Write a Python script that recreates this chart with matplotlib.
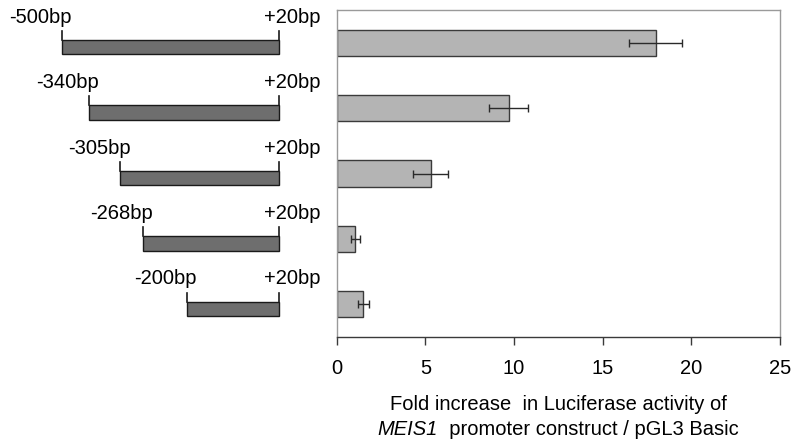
import matplotlib
matplotlib.use("Agg")
import matplotlib.pyplot as plt
import numpy as np

plt.rcParams["font.family"] = ["Liberation Sans", "DejaVu Sans"]

# promoter constructs (top to bottom)
start_labels = ["-500bp", "-340bp", "-305bp", "-268bp", "-200bp"]
end_label = "+20bp"
# schematic start positions as drawn (diagram is not to scale)
draw_start = [-500, -435, -360, -305, -200]
draw_end = 20

fold = [18.0, 9.7, 5.3, 1.05, 1.5]
fold_err = [1.5, 1.1, 1.0, 0.27, 0.33]

xticks = [0, 5, 10, 15, 20, 25]
xlabel_1 = "Fold increase  in Luciferase activity of"
xlabel_gene = "MEIS1"
xlabel_2 = "  promoter construct / pGL3 Basic"

FS = 14.5

fig = plt.figure(figsize=(8, 4.45), dpi=100)

# bar chart on the right
ax = fig.add_axes([0.421, 0.2427, 0.554, 0.7348])
y = np.arange(len(fold))
ax.barh(y, fold, height=0.4, color="#b4b4b4", edgecolor="#3a3a3a", linewidth=1.0,
        xerr=fold_err, error_kw=dict(ecolor="#2a2a2a", elinewidth=1.0, capsize=3, capthick=1.0))
ax.set_ylim(4.5, -0.5)
ax.set_xlim(0, 25)
ax.set_xticks(xticks)
ax.set_yticks([])
ax.tick_params(axis="x", direction="out", length=6, width=1.0, color="#3a3a3a",
               labelsize=FS, pad=10)
for s in ["top", "right", "left"]:
    ax.spines[s].set_color("#9a9a9a")
    ax.spines[s].set_linewidth(1.0)
ax.spines["bottom"].set_color("#3a3a3a")
ax.spines["bottom"].set_linewidth(1.0)

ax.text(0.5, -0.205, xlabel_1, transform=ax.transAxes,
        ha="center", va="center", fontsize=FS)
# second line: italic gene name followed by upright text, centred together
t_gene = ax.text(0.5, -0.283, xlabel_gene, transform=ax.transAxes, ha="left",
                 va="center", fontsize=FS, style="italic")
t_rest = ax.text(0.5, -0.283, xlabel_2, transform=ax.transAxes, ha="left",
                 va="center", fontsize=FS)
fig.canvas.draw()
r = fig.canvas.get_renderer()
w_gene = t_gene.get_window_extent(r).width
w_rest = t_rest.get_window_extent(r).width
ax_w = ax.get_window_extent(r).width
x0 = 0.5 - (w_gene + w_rest) / 2 / ax_w
t_gene.set_x(x0)
t_rest.set_x(x0 + w_gene / ax_w)

# construct diagram on the left
ax0 = fig.add_axes([0.0, 0.2427, 0.421, 0.7348])
ax0.set_xlim(-649, 160)
ax0.set_ylim(4.5, -0.5)
ax0.axis("off")
for i, (st, lab) in enumerate(zip(draw_start, start_labels)):
    yc = i + 0.07
    ax0.barh(yc, draw_end - st, left=st, height=0.22, color="#6e6e6e",
             edgecolor="#1a1a1a", linewidth=1.0)
    top = yc - 0.11
    ax0.plot([st, st], [top, top - 0.14], color="#1a1a1a", lw=1.2)
    ax0.plot([draw_end, draw_end], [top, top - 0.14], color="#1a1a1a", lw=1.2)
    ax0.text(st + 24, i - 0.39, lab, ha="right", va="center", fontsize=FS)
    ax0.text(draw_end - 36, i - 0.39, end_label, ha="left", va="center", fontsize=FS)

fig.savefig("out.png", dpi=100)
